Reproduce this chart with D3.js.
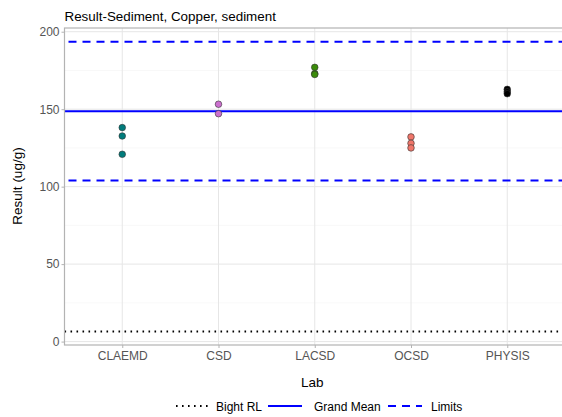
<!DOCTYPE html>
<html><head><meta charset="utf-8">
<script src="https://cdn.jsdelivr.net/npm/d3@7"></script>
<style>body{margin:0;background:#fff;}svg{display:block;font-family:"Liberation Sans",Arial,sans-serif;}</style>
</head><body>
<svg id="c" width="562" height="417"></svg>
<script>
const labs = ["CLAEMD","CSD","LACSD","OCSD","PHYSIS"];
const labColors = ["#007b7b","#cc6fcf","#3b8c0a","#f0766a","#000000"];
const pointLab = ["CLAEMD","CLAEMD","CLAEMD","CSD","CSD","LACSD","LACSD","LACSD","OCSD","OCSD","OCSD","PHYSIS","PHYSIS","PHYSIS"];
const pointResult = [138.1,132.7,120.9,153.2,147.1,177.0,173.0,172.4,132.1,128.0,125.0,162.8,161.2,160.0];
const grandMean = 148.7;
const limits = [103.9,193.5];
const bightRL = 6.5;
const yTicks = [0,50,100,150,200];
const yMinor = [25,75,125,175];
const legendLabels = ["Bight RL","Grand Mean","Limits"];

const svg = d3.select("#c");
const L=64.5, R=565, T=28, B=345;
const y = d3.scaleLinear().domain([-2.2,202.4]).range([B,T]);
const x = d3.scalePoint().domain(labs).range([L,R]).padding(0.6);
const col = d3.scaleOrdinal().domain(labs).range(labColors);

const g = svg.append("g");
g.selectAll(".ymin").data(yMinor).join("line").attr("x1",L).attr("x2",R).attr("y1",d=>y(d)).attr("y2",d=>y(d)).attr("stroke","#f3f3f3").attr("stroke-width",0.6);
g.selectAll(".ymaj").data(yTicks).join("line").attr("x1",L).attr("x2",R).attr("y1",d=>y(d)).attr("y2",d=>y(d)).attr("stroke","#e6e6e6").attr("stroke-width",1);
g.selectAll(".xmaj").data(labs).join("line").attr("x1",d=>x(d)).attr("x2",d=>x(d)).attr("y1",T).attr("y2",B).attr("stroke","#e6e6e6").attr("stroke-width",1);

g.append("line").attr("x1",L).attr("x2",R).attr("y1",y(bightRL)).attr("y2",y(bightRL)).attr("stroke","#000").attr("stroke-width",2).attr("stroke-dasharray","1.6,4.4").attr("stroke-linecap","butt");
g.append("line").attr("x1",L).attr("x2",R).attr("y1",y(grandMean)).attr("y2",y(grandMean)).attr("stroke","#0000ff").attr("stroke-width",2);
g.selectAll(".lim").data(limits).join("line").attr("x1",L).attr("x2",R).attr("y1",d=>y(d)).attr("y2",d=>y(d)).attr("stroke","#0000ff").attr("stroke-width",2).attr("stroke-dasharray","8,6").attr("stroke-dashoffset",-4);

g.selectAll(".pt").data(pointResult.map((v,i)=>({lab:pointLab[i],v}))).join("circle")
 .attr("cx",d=>x(d.lab)).attr("cy",d=>y(d.v)).attr("r",3.3)
 .attr("fill",d=>col(d.lab)).attr("stroke","#333").attr("stroke-width",0.6);

svg.append("rect").attr("x",L).attr("y",T).attr("width",R-L).attr("height",B-T).attr("fill","none").attr("stroke","#b3b3b3").attr("stroke-width",1.2);

const yAx = svg.append("g").attr("transform",`translate(${L},0)`).call(d3.axisLeft(y).tickValues(yTicks).tickSize(3).tickPadding(2));
const xAx = svg.append("g").attr("transform",`translate(0,${B})`).call(d3.axisBottom(x).tickSize(3).tickPadding(3));
[yAx,xAx].forEach(a=>{a.select(".domain").remove();a.selectAll(".tick line").attr("stroke","#b3b3b3");a.selectAll("text").attr("fill","#555555").style("font-size","12px");});

svg.append("text").attr("x",L).attr("y",21).text("Result-Sediment, Copper, sediment").style("font-size","13.4px").attr("fill","#000");
svg.append("text").attr("x",(L+562)/2-1).attr("y",387).attr("text-anchor","middle").text("Lab").style("font-size","13.5px");
svg.append("text").attr("transform","translate(22,186) rotate(-90)").attr("text-anchor","middle").text("Result (ug/g)").style("font-size","13.5px");

const lg = svg.append("g").attr("transform","translate(0,407)");
const styles = [{dash:"1.6,4.4",color:"#000"},{dash:null,color:"#0000ff"},{dash:"8,6",color:"#0000ff"}];
const lx = [176,268,388], tx=[216,314,431];
legendLabels.forEach((t,i)=>{
  const ln = lg.append("line").attr("x1",lx[i]).attr("x2",lx[i]+34).attr("y1",-1).attr("y2",-1).attr("stroke",styles[i].color).attr("stroke-width",2);
  if(styles[i].dash) ln.attr("stroke-dasharray",styles[i].dash);
  lg.append("text").attr("x",tx[i]).attr("y",3.5).text(t).style("font-size","12px");
});
</script>
</body></html>
